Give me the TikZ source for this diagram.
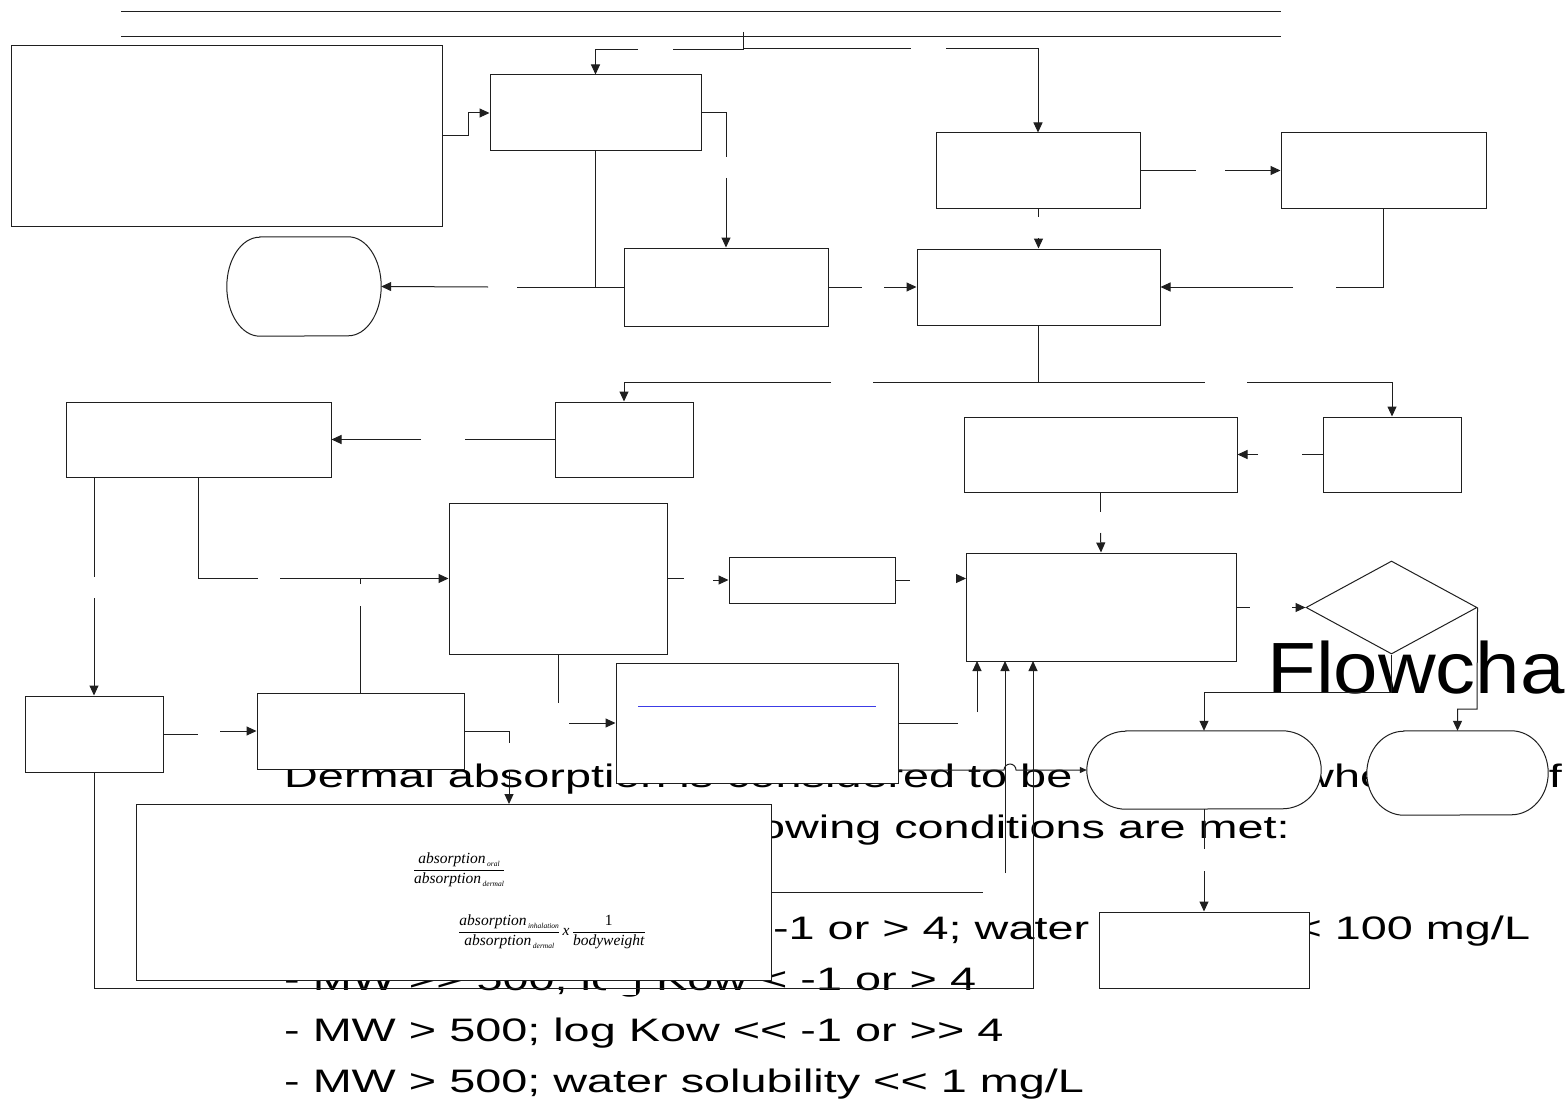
\documentclass[tikz,border=0pt]{standalone}
\usepackage{fontspec}
\usepackage{amsmath}
\setmainfont{Liberation Serif}
\newfontfamily\bodyfont[FakeStretch=1.44,Ligatures=TeXOff]{Liberation Sans}
\newfontfamily\titlefont[FakeStretch=1.10,Ligatures=TeXOff]{Liberation Sans}
\usetikzlibrary{arrows.meta,shapes.geometric,fit}
\newcommand\ab[1]{\mbox{\itshape absorption\hspace{1.5pt}\raisebox{-3pt}{\fontsize{7.5}{8}\selectfont #1}}}
\newcommand\stadium[3]{%
  \draw[ln, fill=white] ([xshift=#2]#1.north west) -- ([xshift=-#2]#1.north east)
    arc[start angle=90, end angle=-90, x radius=#2, y radius=#3]
    -- ([xshift=#2]#1.south west)
    arc[start angle=270, end angle=90, x radius=#2, y radius=#3] -- cycle;}
\tikzset{
  ln/.style={draw=black!88, line width=1pt},
  box/.style={ln, fill=white, inner sep=0pt, rectangle},
  ghost/.style={draw=none, inner sep=0pt, rectangle},
  arr/.style={ln, -{Triangle[length=10pt,width=9pt]}},
  sarr/.style={ln, -{Triangle[length=7pt,width=6pt]}},
  txt/.style={font=\bodyfont\fontsize{32.5}{36}\selectfont, inner sep=0pt, anchor=base west},
  frm/.style={font=\fontsize{15.5}{17}\selectfont, inner sep=0pt},
}
\begin{document}
\begin{tikzpicture}[x=1pt,y=-1pt]
\useasboundingbox (0,0) rectangle (1565,1102);
\fill[white] (0,0) rectangle (1565,1102);

% header lines
\draw[ln] (121,12) -- (1281,12);
\draw[ln] (121,37) -- (1281,37);

% background text
\node[txt] (l1a) at (284,787) {Dermal absorption is considered to be};
\node[txt] (l1b) at (1300,787) {when};
\node[txt, anchor=base east] (l1c) at (1562,787) {of};
\node[txt, anchor=base east] (l2) at (1290,838) {the following conditions are met:};
\node[txt] (l3) at (284,939) {- MW > 500; log Kow < -1 or > 4; water solubility < 100 mg/L};
\node[txt] (l4) at (284,990) {- MW >> 500; log Kow < -1 or > 4};
\node[txt] (l5) at (284,1041) {- MW > 500; log Kow << -1 or >> 4};
\node[txt] (l6) at (284,1092) {- MW > 500; water solubility << 1 mg/L};
\node[anchor=base west, inner sep=0pt, font=\titlefont\fontsize{72.6}{80}\selectfont] (title) at (1267,693) {Flowcha};
\fill[white] (606,981) rectangle (636,995);

% boxes
\node[box, fit={(11,46) (442,226)}] (b1) {};
\node[box, fit={(490,75) (701,151)}] (b2) {};
\node[box, fit={(936,133) (1140,208)}] (b3) {};
\node[box, fit={(1281,133) (1486,208)}] (b6) {};
\node[box, fit={(624,248) (828,326)}] (b4) {};
\node[box, fit={(917,249) (1160,325)}] (b5) {};
\node[box, fit={(66,402) (331,477)}] (b7) {};
\node[box, fit={(555,402) (693,477)}] (b8) {};
\node[box, fit={(964,417) (1237,492)}] (b9) {};
\node[box, fit={(1323,417) (1461,492)}] (b10) {};
\node[box, fit={(449,503) (667,654)}] (b13) {};
\node[box, fit={(729,557) (895,603)}] (b15) {};
\node[box, fit={(966,553) (1236,661)}] (b11) {};
\node[box, fit={(25,696) (163,772)}] (b12) {};
\node[box, fit={(257,693) (464,769)}] (b14) {};
\node[box, fit={(616,663) (898,783)}] (b18) {};
\node[box, fit={(136,804) (771,980)}] (b17) {};
\node[box, fit={(1099,912) (1309,988)}] (b16) {};
\node[ghost, fit={(227,237) (381,336)}] (t1) {};
\node[ghost, fit={(1087,731) (1321,809)}] (t2) {};
\node[ghost, fit={(1367,731) (1548,815)}] (t3) {};
\stadium{t1}{33pt}{49.5pt}
\stadium{t2}{39pt}{39pt}
\stadium{t3}{37pt}{42pt}
\node[ln, fill=white, diamond, minimum width=171pt, minimum height=93pt, inner sep=0pt] (d) at (1391.5,607.5) {};

% blue rule inside b18
\draw[draw={rgb,255:red,60;green,60;blue,230}, line width=1pt] (638,706.5) -- (876,706.5);

% formulas
\node[frm] (f1) at (459,870) {$\dfrac{\ab{oral}}{\ab{dermal}}$};
\node[frm] (f2) at (552,932) {$\dfrac{\ab{inhalation}}{\ab{dermal}}\,\mbox{\itshape x}\,\dfrac{\mbox{1}}{\mbox{\itshape bodyweight}}$};

% connectors
\draw[ln] (743,32) -- (743,50);
\draw[ln] (743,50) -- (673,50);
\draw[arr] (638,50) -- (595.5,50) -- (b2.north);
\draw[ln] (743,49) -- (911,49);
\draw[arr] (946,49) -- (1038,49) -- (b3.north);
\draw[arr] (b1.east) -- (468,136) -- (468,113) -- (b2.west);
\draw[ln] (b2.east) -- (726,113) -- (726,157);
\draw[arr] (726,178) -- (b4.north);
\draw[ln] (b2.south) -- (595.5,287);
\draw[ln] (b4.west) -- (517,287);
\draw[arr] (488,287) -- (t1.east);
\draw[ln] (b4.east) -- (862,287);
\draw[arr] (884,287) -- (b5.west);
\draw[ln] (b3.east) -- (1196,170.5);
\draw[arr] (1225,170.5) -- (b6.west);
\draw[ln] (b3.south) -- (1038,217);
\draw[arr] (1038.5,238) -- (b5.north);
\draw[ln] (b6.south) -- (1383.5,287) -- (1336,287);
\draw[arr] (1293,287) -- (b5.east);
\draw[ln] (b5.south) -- (1038.5,382) -- (873,382);
\draw[arr] (831,382) -- (624,382) -- (b8.north);
\draw[ln] (1038.5,382) -- (1205,382);
\draw[arr] (1247,382) -- (1392,382) -- (b10.north);
\draw[ln] (b8.west) -- (465,439.5);
\draw[arr] (421,439.5) -- (b7.east);
\draw[ln] (b10.west) -- (1302,454.5);
\draw[arr] (1258,454.5) -- (b9.east);
\draw[ln] (b9.south) -- (1100.5,512);
\draw[arr] (1100.5,533) -- (b11.north);
\draw[ln] (94,477) -- (94,577);
\draw[arr] (94,598) -- (b12.north);
\draw[ln] (b7.south) -- (198.5,578.5) -- (258,578.5);
\draw[arr] (280,578.5) -- (b13.west);
\draw[ln] (b14.north) -- (360.5,606);
\draw[ln] (360.5,584) -- (360.5,578.5);
\draw[ln] (b13.east) -- (684,578.5);
\draw[arr] (713,580) -- (b15.west);
\draw[ln] (b15.east) -- (910,580);
\draw[arr] (957,578.5) -- (966,578.5);
\draw[ln] (b11.east) -- (1250,607);
\draw[arr] (1292,607.5) -- (d.west);
\draw[arr] (d.south) -- (1391.5,692) -- (1204,692) -- (t2.north);
\draw[arr] (d.east) -- (1477,709) -- (1457.5,709) -- (t3.north);
\draw[ln] (t2.south) -- (1204,849);
\draw[arr] (1204,871) -- (b16.north);
\draw[ln] (b12.east) -- (198,734);
\draw[arr] (220,731) -- (b14.west);
\draw[ln] (b14.east) -- (509,731) -- (509,743);
\draw[arr] (509,770) -- (509,804);
\draw[ln] (b13.south) -- (558,703);
\draw[arr] (569,723) -- (b18.west);
\draw[ln] (b18.east) -- (958,723);
\draw[arr] (977,712) -- (977,661);
\draw[ln] (b17.east) -- (983,892);
\draw[arr] (1005,873) -- (1005,661);
\draw[arr] (b12.south) -- (94,988) -- (1033,988) -- (1033,661);
\draw[sarr] (898,770) -- (1004,770) arc[start angle=180, end angle=0, radius=6pt] -- (t2.west);
\end{tikzpicture}
\end{document}
